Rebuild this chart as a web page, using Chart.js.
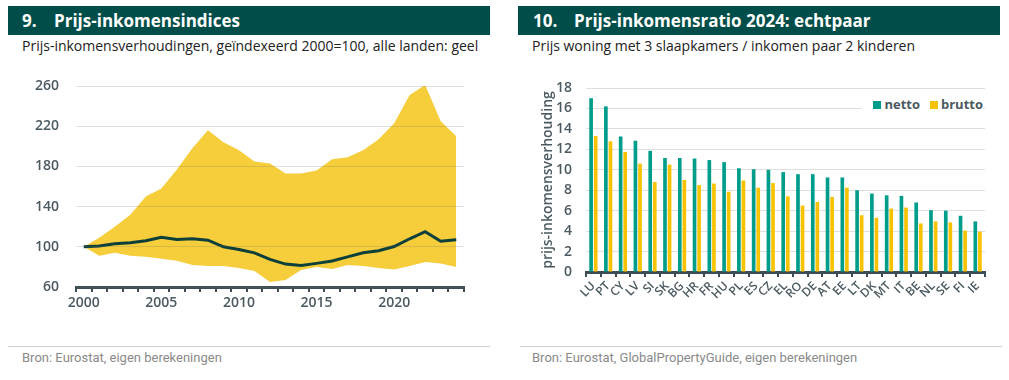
<!DOCTYPE html>
<html>
<head>
<meta charset="utf-8">
<script src="https://cdn.jsdelivr.net/npm/chart.js@4/dist/chart.umd.min.js"></script>
<style>
  body { margin: 0; width: 1009px; height: 380px; background: #fff; font-family: "Open Sans", sans-serif; position: relative; overflow: hidden; }
  .hdr { position: absolute; top: 6px; height: 29px; line-height: 29px; background: #004d49; color: #fff; font-weight: 700; font-size: 17px; white-space: nowrap; }
  .hdr .n { display: inline-block; }
  .sub { position: absolute; top: 36px; font-size: 14px; color: #222; white-space: nowrap; }
  .rule { position: absolute; top: 346px; height: 1px; background: #cfcfcf; }
  .src { position: absolute; top: 350px; font-size: 13px; color: #8a8a8a; font-family: "Liberation Sans Narrow", "Roboto", sans-serif; }
  .box { position: absolute; top: 60px; height: 270px; }
  #legend { position: absolute; right: 26px; top: 95px; height: 18px; padding: 0 0 0 11px; background: #fff; font-size: 13px; font-weight: 700; color: #4b5a61; line-height: 18px; white-space: nowrap; }
  #legend span.sw { display: inline-block; width: 8px; height: 8px; margin-right: 3px; vertical-align: 0px; }
  #legend span.it { margin-right: 10px; }
  #legend span.it:last-child { margin-right: 0; }
</style>
</head>
<body>

<div class="hdr" style="left:8px;width:468px;padding-left:14px"><span class="n" style="width:32px">9.</span>Prijs-inkomensindices</div>
<div class="sub" style="left:22px">Prijs-inkomensverhoudingen, geïndexeerd 2000=100, alle landen: geel</div>
<div class="box" style="left:0;width:490px"><canvas id="indexChart"></canvas></div>
<div class="rule" style="left:8px;width:482px"></div>
<div class="src" style="left:22px">Bron: Eurostat, eigen berekeningen</div>

<div class="hdr" style="left:518px;width:467px;padding-left:15px"><span class="n" style="width:41px">10.</span>Prijs-inkomensratio 2024: echtpaar</div>
<div class="sub" style="left:532px">Prijs woning met 3 slaapkamers / inkomen paar 2 kinderen</div>
<div class="box" style="left:500px;width:509px"><canvas id="ratioChart"></canvas></div>
<div id="legend"></div>
<div class="rule" style="left:520px;width:482px"></div>
<div class="src" style="left:532px">Bron: Eurostat, GlobalPropertyGuide, eigen berekeningen</div>

<script>
// chart 9: price-income index, 2000=100
const years = ['2000','2001','2002','2003','2004','2005','2006','2007','2008','2009','2010','2011','2012',
               '2013','2014','2015','2016','2017','2018','2019','2020','2021','2022','2023','2024'];
const bandMax = [100, 109, 120, 132, 150, 158, 177, 198, 216, 204, 196, 185, 183,
                 173, 173, 176, 187, 189, 196, 207, 223, 251, 261, 225, 210];
const bandMin = [100, 91, 94, 91, 90, 88, 86, 82, 81, 81, 79, 76, 65,
                 67, 77, 80, 78, 82, 81, 79, 77.5, 81, 85, 83.5, 80];
const median = [100, 100.7, 103, 104, 106, 109.5, 107.3, 108, 106.6, 100, 97.4, 94, 87.5,
                82.8, 81.5, 83.5, 85.8, 90, 94, 96, 100.3, 108, 115, 105.6, 107];
const indexTicks = [60, 100, 140, 180, 220, 260];

// chart 10: price-income ratio 2024
const countries = ['LU','PT','CY','LV','SI','SK','BG','HR','FR','HU','PL','ES','CZ','EL',
                   'RO','DE','AT','EE','LT','DK','MT','IT','BE','NL','SE','FI','IE'];
const netto = [17.0, 16.2, 13.25, 12.85, 11.85, 11.15, 11.15, 11.1, 10.95, 10.75, 10.15, 10.05, 10.0, 9.77,
               9.57, 9.57, 9.25, 9.25, 8.0, 7.67, 7.5, 7.45, 6.8, 6.05, 6.0, 5.5, 4.95];
const brutto = [13.3, 12.8, 11.75, 10.6, 8.8, 10.5, 9.0, 8.5, 8.65, 7.85, 8.95, 8.25, 8.7, 7.4,
                6.5, 6.85, 7.35, 8.25, 5.55, 5.3, 6.2, 6.3, 4.75, 4.95, 4.85, 4.05, 3.95];

const inkColor = '#4b5a61';
const axisColor = '#3c4d55';
const gridColor = 'rgba(110,110,110,0.22)';
Chart.defaults.font.family = '"Open Sans", sans-serif';
Chart.defaults.color = inkColor;
Chart.defaults.animation = false;

new Chart(document.getElementById('indexChart'), {
  type: 'line',
  data: {
    labels: years,
    datasets: [
      { label: 'mediaan', data: median, borderColor: '#0d3f3b', borderWidth: 3, pointRadius: 0, fill: false, order: 0 },
      { label: 'max', data: bandMax, borderColor: 'rgba(0,0,0,0)', borderWidth: 0, pointRadius: 0, fill: false, order: 1 },
      { label: 'min', data: bandMin, borderColor: 'rgba(0,0,0,0)', borderWidth: 0, pointRadius: 0, fill: '-1', backgroundColor: '#f6cd3a', order: 1 }
    ]
  },
  options: {
    responsive: true,
    maintainAspectRatio: false,
    layout: { padding: { top: 26, right: 26, left: 0, bottom: 0 } },
    plugins: { legend: { display: false }, tooltip: { enabled: false } },
    scales: {
      x: {
        offset: true,
        grid: { offset: true, drawOnChartArea: false, drawTicks: true, tickLength: 5, color: axisColor, lineWidth: 2 },
        border: { display: true, color: axisColor, width: 3 },
        ticks: { autoSkip: false, maxRotation: 0, padding: 3, font: { size: 14, weight: '600' },
                 callback: (v, i) => i % 5 === 0 ? years[i] : '' },
        afterFit: s => { s.height = 43; }
      },
      y: {
        min: 60, max: 260,
        afterBuildTicks: s => { s.ticks = indexTicks.map(v => ({ value: v })); },
        grid: { color: gridColor, drawTicks: false, z: 1 },
        border: { display: false },
        ticks: { padding: 17, font: { size: 14, weight: '600' } },
        afterFit: s => { s.width = 76; }
      }
    }
  }
});

const ratioChart = new Chart(document.getElementById('ratioChart'), {
  type: 'bar',
  data: {
    labels: countries,
    datasets: [
      { label: 'netto', data: netto, backgroundColor: '#009d8a', categoryPercentage: 0.62, barPercentage: 0.8 },
      { label: 'brutto', data: brutto, backgroundColor: '#f7c300', categoryPercentage: 0.62, barPercentage: 0.8 }
    ]
  },
  options: {
    responsive: true,
    maintainAspectRatio: false,
    layout: { padding: { top: 28, right: 24, left: 0, bottom: 0 } },
    plugins: { legend: { display: false }, tooltip: { enabled: false } },
    scales: {
      x: {
        grid: { offset: true, drawOnChartArea: false, drawTicks: true, tickLength: 5, color: axisColor, lineWidth: 2 },
        border: { display: true, color: axisColor, width: 3 },
        ticks: { autoSkip: false, minRotation: 45, maxRotation: 45, padding: 2, font: { size: 12, weight: '600' } },
        afterFit: s => { s.height = 58; }
      },
      y: {
        min: 0, max: 18,
        ticks: { stepSize: 2, padding: 14, font: { size: 14, weight: '600' } },
        grid: { color: gridColor, drawTicks: false },
        border: { display: false },
        title: { display: true, text: 'prijs-inkomensverhouding', color: inkColor, font: { size: 14, weight: '600' }, padding: { top: 40, bottom: 0 } },
        afterFit: s => { s.width = 86; }
      }
    }
  }
});

// html legend, sits on a white patch over the grid like the original
document.getElementById('legend').innerHTML = ratioChart.data.datasets
  .map(ds => `<span class="it"><span class="sw" style="background:${ds.backgroundColor}"></span>${ds.label}</span>`)
  .join('');
</script>
</body>
</html>
